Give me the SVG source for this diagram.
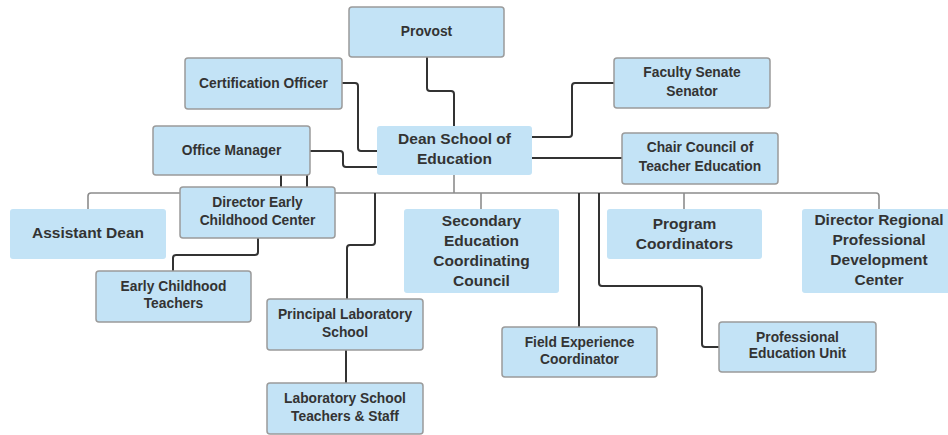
<svg xmlns="http://www.w3.org/2000/svg" width="948" height="435" viewBox="0 0 948 435">
<style>
.box{fill:#c3e3f6;stroke:#9b9b9b;stroke-width:1.5}
.plain{fill:#c3e3f6;stroke:none}
.t{font-family:"Liberation Sans",Arial,sans-serif;font-weight:bold;fill:#333;text-anchor:middle}
.s{font-size:13.8px}
.l{font-size:15.5px}
.dk{fill:none;stroke:#333;stroke-width:2;stroke-linejoin:round}
.gr{fill:none;stroke:#8c8c8c;stroke-width:1.6;stroke-linejoin:round}
</style>
<rect width="948" height="435" fill="#fff"/>
<g id="connectors">
<path class="gr" d="M88,209 V196 Q88,193 91,193 H876 Q879,193 879,196 V209"/>
<path class="gr" d="M454,175 V193"/>
<path class="gr" d="M481,193 V209"/>
<path class="gr" d="M684,193 V209"/>
<path class="dk" d="M427,57 V88 Q427,91 430,91 H451 Q454,91 454,94 V126"/>
<path class="dk" d="M342,83 H355 Q358,83 358,86 V148 Q358,151 361,151 H377"/>
<path class="dk" d="M310,151 H340 Q343,151 343,154 V164 Q343,167 346,167 H377"/>
<path class="dk" d="M532,137 H569 Q572,137 572,134 V86 Q572,83 575,83 H614"/>
<path class="dk" d="M532,158 H622"/>
<path class="dk" d="M281,175 V187"/>
<path class="dk" d="M307,175 V187"/>
<path class="dk" d="M258,238 V252 Q258,255 255,255 H176 Q173,255 173,258 V271"/>
<path class="dk" d="M375,193 V242 Q375,245 372,245 H350 Q347,245 347,248 V299"/>
<path class="dk" d="M346,350 V383"/>
<path class="dk" d="M579,193 V327"/>
<path class="dk" d="M599,193 V283 Q599,286 602,286 H699 Q702,286 702,289 V344 Q702,347 705,347 H719"/>
</g>
<g id="provost"><rect class="box" x="349" y="7" width="155" height="50" rx="3"/><text class="t s" x="426.5" y="36">Provost</text></g>
<g id="certification-officer"><rect class="box" x="185" y="58" width="157" height="51" rx="3"/><text class="t s" x="263.5" y="88">Certification Officer</text></g>
<g id="office-manager"><rect class="box" x="153" y="126" width="157" height="49" rx="3"/><text class="t s" x="231.5" y="155">Office Manager</text></g>
<g id="dean"><rect class="plain" x="377" y="126" width="155" height="49" rx="3"/><text class="t l" x="454.5" y="143.5">Dean School of</text><text class="t l" x="454.5" y="163.5">Education</text></g>
<g id="faculty-senate"><rect class="box" x="614" y="58" width="156" height="50" rx="3"/><text class="t s" x="692" y="77">Faculty Senate</text><text class="t s" x="692" y="95.5">Senator</text></g>
<g id="chair-council"><rect class="box" x="622" y="133" width="156" height="51" rx="3"/><text class="t s" x="700" y="152">Chair Council of</text><text class="t s" x="700" y="170.5">Teacher Education</text></g>
<g id="assistant-dean"><rect class="plain" x="10" y="209" width="156" height="50" rx="3"/><text class="t l" x="88" y="237.5">Assistant Dean</text></g>
<g id="director-early"><rect class="box" x="180" y="187" width="155" height="51" rx="3"/><text class="t s" x="257.5" y="206.5">Director Early</text><text class="t s" x="257.5" y="224.5">Childhood Center</text></g>
<g id="early-childhood-teachers"><rect class="box" x="96" y="271" width="155" height="51" rx="3"/><text class="t s" x="173.5" y="290.5">Early Childhood</text><text class="t s" x="173.5" y="308">Teachers</text></g>
<g id="principal"><rect class="box" x="267" y="299" width="156" height="51" rx="3"/><text class="t s" x="345" y="318.5">Principal Laboratory</text><text class="t s" x="345" y="336.5">School</text></g>
<g id="lab-teachers"><rect class="box" x="267" y="383" width="156" height="51" rx="3"/><text class="t s" x="345" y="402.5">Laboratory School</text><text class="t s" x="345" y="420.5">Teachers &amp; Staff</text></g>
<g id="secondary"><rect class="plain" x="404" y="209" width="155" height="84" rx="3"/><text class="t l" x="481.5" y="225.5">Secondary</text><text class="t l" x="481.5" y="245.5">Education</text><text class="t l" x="481.5" y="265.5">Coordinating</text><text class="t l" x="481.5" y="285.5">Council</text></g>
<g id="field-experience"><rect class="box" x="502" y="327" width="155" height="50" rx="3"/><text class="t s" x="579.5" y="346.5">Field Experience</text><text class="t s" x="579.5" y="364">Coordinator</text></g>
<g id="program-coordinators"><rect class="plain" x="607" y="209" width="155" height="50" rx="3"/><text class="t l" x="684.5" y="228.5">Program</text><text class="t l" x="684.5" y="248.5">Coordinators</text></g>
<g id="professional-education-unit"><rect class="box" x="719" y="322" width="157" height="50" rx="3"/><text class="t s" x="797.5" y="341.5">Professional</text><text class="t s" x="797.5" y="358">Education Unit</text></g>
<g id="director-regional"><rect class="plain" x="802" y="209" width="155" height="84" rx="3"/><text class="t l" x="879" y="224.5">Director Regional</text><text class="t l" x="879" y="244.5">Professional</text><text class="t l" x="879" y="264.5">Development</text><text class="t l" x="879" y="284.5">Center</text></g>
</svg>
